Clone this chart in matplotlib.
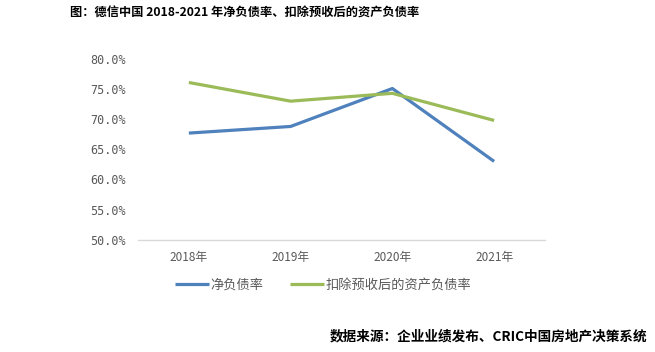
import matplotlib
matplotlib.use("Agg")
import matplotlib.pyplot as plt
from matplotlib.ticker import FuncFormatter

plt.rcParams['font.family'] = ['Noto Sans CJK SC', 'DejaVu Sans']

categories = ['2018年', '2019年', '2020年', '2021年']
net_debt_ratio = [67.7, 68.8, 75.1, 63.0]
adj_liability_ratio = [76.1, 73.0, 74.3, 69.8]
series_names = ['净负债率', '扣除预收后的资产负债率']
title = '图：德信中国 2018-2021 年净负债率、扣除预收后的资产负债率'
source = '数据来源：企业业绩发布、CRIC中国房地产决策系统'

fig = plt.figure(figsize=(6.55, 3.52), dpi=100)
ax = fig.add_axes([138/655, 1 - 239.7/352, (545-138)/655, (239.7-59)/352])

x = list(range(len(categories)))
ax.plot(x, net_debt_ratio, color='#4F81BD', lw=2.3, label=series_names[0], solid_capstyle='butt')
ax.plot(x, adj_liability_ratio, color='#9BBB59', lw=2.3, label=series_names[1], solid_capstyle='butt')

ax.set_xlim(-0.5, 3.5)
ax.set_ylim(50, 80)
ax.set_yticks([50, 55, 60, 65, 70, 75, 80])
ax.yaxis.set_major_formatter(FuncFormatter(lambda v, p: f'{v:.1f}%'))
ax.set_xticks(x)
ax.set_xticklabels(categories)

for s in ['top', 'right', 'left']:
    ax.spines[s].set_visible(False)
ax.spines['bottom'].set_color('#D9D9D9')
ax.spines['bottom'].set_linewidth(1.0)
ax.tick_params(axis='both', length=0, colors='#595959')
ax.tick_params(axis='y', pad=9)
ax.tick_params(axis='x', pad=8)
for lab in ax.get_yticklabels():
    lab.set_family(['DejaVu Sans Mono'])
    lab.set_fontsize(8.5)
for lab in ax.get_xticklabels():
    lab.set_fontsize(8.5)

leg = fig.legend(loc='center', bbox_to_anchor=(323/655, 1 - 285/352), ncol=2, frameon=False,
                 fontsize=9.5, handlelength=2.6, handletextpad=0.1, columnspacing=2.0)
for t in leg.get_texts():
    t.set_color('#595959')

fig.text(245/655, 1 - 13/352, title, ha='center', va='center', fontsize=8.8, fontweight='heavy', color='black')
fig.text(647/655, 1 - 336/352, source, ha='right', va='center', fontsize=9.8, fontweight='heavy', color='black')

fig.savefig('out.png', dpi=100)
